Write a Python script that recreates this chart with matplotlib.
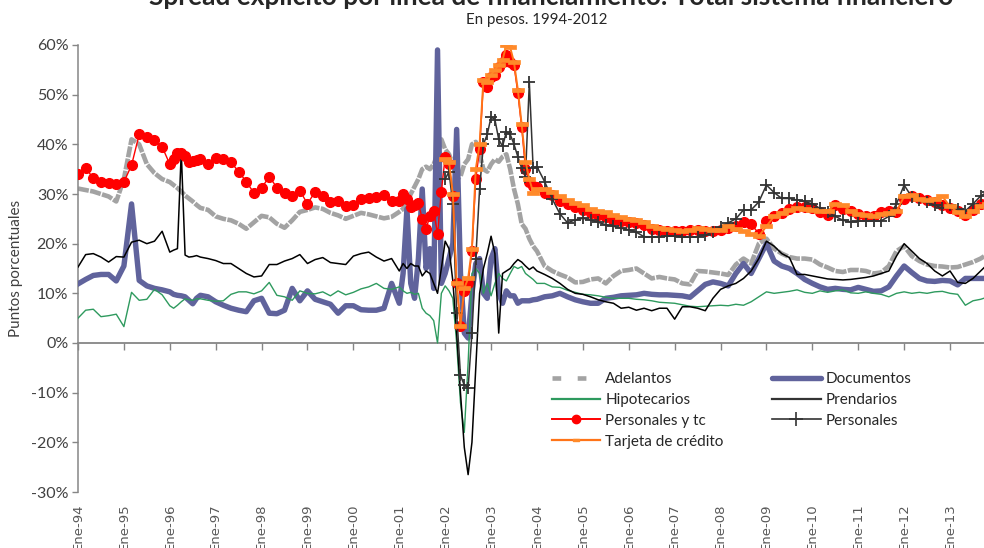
import numpy as np
import matplotlib
matplotlib.use("Agg")
import matplotlib.pyplot as plt
from matplotlib.lines import Line2D
from matplotlib.path import Path

plt.rcParams['font.family'] = ['Lato', 'DejaVu Sans']

# ---- time grid (month index, 0 = Ene-94) ----
months = (list(range(0, 25, 2)) + list(range(25, 32)) + list(range(32, 85, 2))
          + list(range(85, 121)) + list(range(122, 239, 2)))
start_new = 96  # series that begin in Ene-02

year_ticks = list(range(1994, 2014))
year_labels = ['Ene-94', 'Ene-95', 'Ene-96', 'Ene-97', 'Ene-98', 'Ene-99', 'Ene-00',
               'Ene-01', 'Ene-02', 'Ene-03', 'Ene-04', 'Ene-05', 'Ene-06', 'Ene-07',
               'Ene-08', 'Ene-09', 'Ene-10', 'Ene-11', 'Ene-12', 'Ene-13']

# ---- series (percent) ----
adelantos = [
    31.1, 30.8, 30.5, 30.0, 29.5, 28.5, 33.0, 41.0, 40.0, 36.0, 34.2, 33.0, 32.4,
    31.8, 31.2, 30.5, 29.7, 29.1, 28.5, 27.8,
    27.2, 26.8, 25.5, 25.0, 24.7, 24.0, 23.0, 24.3, 25.6, 25.3, 24.0, 23.2, 24.7, 26.4,
    26.8, 27.3, 27.0, 26.2, 25.7, 25.0, 25.6, 26.2, 25.9, 25.5, 25.1, 25.4, 26.4,
    27.0, 28.5, 30.0, 31.5, 33.0, 35.0, 35.5, 35.0, 36.0, 38.0, 41.0, 39.0, 38.0, 36.0,
    33.0, 33.5, 36.0, 37.0, 40.0, 40.5, 38.0, 35.0, 34.5, 36.0, 37.0, 36.5, 37.5, 38.0,
    35.0, 31.0, 28.0, 24.0, 23.0, 21.0, 19.5, 18.5,
    15.5, 14.5, 13.8, 13.2, 12.2, 12.3, 12.8, 13.0, 12.0, 13.5, 14.5, 14.7, 15.0, 14.0,
    13.0, 13.3, 13.0, 12.8, 12.0, 11.8, 14.5, 14.4, 14.2, 14.0, 13.7, 15.8, 17.0, 16.0,
    20.0, 21.0, 19.0, 18.0, 17.3, 17.0, 17.0, 16.8, 15.8, 15.2, 14.5, 14.3, 14.7, 14.7,
    14.5, 14.0, 14.2, 15.5, 18.5, 19.5, 17.5, 16.5, 15.8, 15.5, 15.4, 15.2, 15.3, 15.8,
    16.3, 17.0, 18.0]

documentos = [
    11.9, 12.8, 13.6, 13.8, 13.8, 12.5, 15.5, 28.0, 12.6, 11.5, 11.0, 10.7, 10.3,
    9.8, 9.6, 9.5, 9.3, 8.6, 7.9, 9.0,
    9.6, 9.3, 8.3, 7.6, 7.0, 6.6, 6.3, 8.5, 9.0, 6.0, 5.9, 6.6, 11.0, 8.5, 10.5, 8.8,
    8.3, 7.8, 6.0, 7.5, 7.5, 6.7, 6.6, 6.6, 7.0, 12.0, 8.0,
    14, 27, 12, 9, 17, 31, 15, 19, 11, 59, 12, 14, 17, 20, 43, 14, 2, 1, 10, 16, 17,
    10, 9, 17, 19, 10, 8, 10.5, 9.5, 9.5, 8, 8.5, 8.5, 8.5, 8.7, 8.8,
    9.3, 9.5, 10, 9.3, 8.7, 8.3, 8, 8, 9, 9.2, 9.5, 9.6, 9.7, 10, 9.8, 9.7, 9.7, 9.6,
    9.5, 9.2, 10.5, 11.8, 12.3, 12, 11.5, 14, 16, 14, 17, 20, 16.5, 15.5, 15, 14, 12.8,
    12, 11.3, 10.8, 11, 10.8, 10.7, 11.2, 10.8, 10.4, 10.5, 11.3, 13.5, 15.5, 14.2, 13,
    12.5, 12.4, 12.6, 12.5, 11.7, 13, 13, 13, 13]

hipotecarios = [
    5.0, 6.6, 6.8, 5.3, 5.5, 5.8, 3.3, 10.2, 8.6, 8.8, 10.8, 9.7, 7.5,
    7.0, 7.6, 8.3, 8.9, 8.7, 8.6, 8.9,
    8.9, 8.6, 8.4, 8.5, 9.8, 10.3, 10.3, 9.9, 10.5, 12.2, 9.6, 9.3, 8.6, 10.5, 10.0,
    9.9, 10.3, 9.5, 10.5, 9.7, 10.2, 10.9, 11.3, 12.0, 11.0, 10.8, 11.3,
    10.5, 10, 10.2, 9.8, 10, 7, 6, 5.5, 4.5, 0, 10, 11.5, 10.5, 9, 0, -12, -18, -4, 14,
    15, 14, 10, 12, 9.5, 12, 14, 13, 12.5, 14, 15.4, 15, 15.4, 14, 13.4, 12.8, 12,
    12, 11.3, 11.2, 10.6, 10.2, 9.8, 9.7, 9.5, 9.2, 9, 9, 9, 8.8, 8.7, 8.5, 8.2, 8.1,
    8, 7.7, 7.4, 7.3, 7.4, 7.5, 7.6, 7.5, 7.8, 7.6, 8.3, 9.3, 10.3, 10, 10.2, 10.4,
    10.7, 10.2, 10, 10.5, 10.2, 10.5, 10.7, 10.1, 10, 10.3, 10, 9.8, 9.3, 10, 10.3, 10,
    10.2, 10, 10.3, 10.4, 10, 9.8, 7.6, 8.5, 8.8, 9.3]

prendarios = [
    15.3, 17.8, 18.0, 17.3, 16.3, 17.4, 17.3, 20.3, 20.7, 20.0, 20.5, 22.5, 18.3,
    18.7, 19.0, 38.5, 17.7, 17.3, 17.4, 17.6,
    17.3, 17.0, 16.6, 16.0, 16.0, 15.0, 14.0, 13.3, 13.5, 15.8, 15.8, 16.5, 17.0, 17.8,
    16.0, 16.8, 17.2, 16.2, 16.0, 15.8, 17.5, 18.0, 18.3, 17.3, 16.5, 17.0, 14.5,
    16, 15, 16, 15.5, 15.5, 13.5, 14.5, 14, 12, 10, 15, 20.5, 19, 12.5, 2, -10, -21,
    -26.5, -20, -5, 10, 15, 18, 21.5, 18, 2, 14, 14.5, 15, 16, 16.8, 16.3, 15.5, 14.8,
    15.3, 14.5,
    13.8, 13, 12, 10.8, 10, 9.8, 9.3, 8.7, 8.3, 8, 7, 7.2, 6.6, 7, 6.5, 7, 7, 4.8, 7.3,
    7.3, 7, 6.5, 9, 10.8, 11.5, 12, 13, 14.5, 17, 20.5, 19.5, 18, 17.2, 13.8, 13.8,
    13.5, 13.2, 12.9, 12.8, 12.7, 12.8, 13, 13.2, 13.5, 14, 14.5, 17.5, 20, 18.5, 17,
    16, 14.5, 13.5, 14.5, 12.2, 12, 13, 14.5, 16]

personales_tc = [
    34.0, 35.2, 33.2, 32.4, 32.2, 32.0, 32.4, 35.8, 42.0, 41.4, 40.8, 39.5, 36.0,
    37.0, 38.2, 38.3, 37.7, 36.4, 36.6, 36.9,
    37.0, 36.1, 37.2, 37.0, 36.4, 34.5, 32.5, 30.2, 31.2, 33.5, 31.3, 30.2, 29.5, 30.7,
    28.0, 30.5, 29.5, 28.4, 28.5, 27.5, 27.8, 29.0, 29.1, 29.4, 29.8, 28.5, 28.5,
    30, 29, 27.3, 27.8, 28.2, 25, 23, 25.5, 26.5, 22, 30.5, 37.5, 36, 29.5, 12, 3.5,
    10.5, 12, 18.5, 33, 39, 52.5, 51.5, 53.5, 54, 55.5, 56.5, 58, 56.5, 56, 50.3, 43.5,
    35, 32.5, 31.7, 31.4,
    30.3, 29.8, 28.6, 28, 27.3, 26.8, 26.1, 25.8, 25.4, 24.8, 24.6, 24.4, 24.1, 23.8,
    23, 22.8, 22.6, 22.5, 22.5, 22.7, 22.8, 22.6, 22.5, 22.7, 23.2, 23.5, 24.3, 24,
    22, 24.5, 25.5, 26.2, 27, 27.4, 27.4, 27.2, 26.4, 25.8, 27.8, 27, 26.5, 26, 25.5,
    25.5, 26.4, 26.6, 26.4, 29, 29.6, 29.1, 28.8, 28.3, 27.8, 27.2, 26.6, 25.8, 26.8,
    28, 28.3]

# from Ene-02 onwards
tarjeta = [
    37, 36.5, 30, 12, 3.5, 11, 13, 19, 35, 40, 53, 52.5, 54, 55, 56, 57, 60, 59.5, 56.5,
    51, 44, 36.5, 33, 30.3, 31,
    31, 30.5, 29.5, 28.8, 28.2, 27.8, 27, 26.5, 26.3, 25.8, 25.4, 25, 24.8, 24.3, 23.6,
    23.2, 23, 22.8, 22.6, 22.8, 23.2, 23, 22.8, 22.8, 23.5, 23, 22.5, 22, 21.5, 23.5,
    25.5, 26.2, 26.8, 27.2, 27, 26.8, 26.5, 26.5, 28, 27.8, 26.5, 26, 25.8, 25.5, 26,
    26.2, 26.5, 29.5, 29.8, 29, 28.8, 29, 29.5, 27.5, 26.3, 25.5, 26.5, 27.5, 28]

personales = [
    33, 34.5, 28, 6, -6.5, -8.5, -9, 2, 17, 31, 40, 42, 45.5, 45, 41, 39.6, 42.5, 42,
    40, 37.5, 35.2, 33.5, 52.5, 35.2, 35.5,
    32.5, 29, 26, 24.2, 24.8, 25.1, 24.8, 24.3, 23.8, 23.5, 23.1, 22.8, 22.3, 21.4,
    21.4, 21.4, 21.5, 21.5, 21.3, 21.3, 21.4, 21.7, 22.4, 23.4, 24.2, 25, 26.8, 26.8,
    28.4, 31.8, 30.3, 29.1, 29.1, 28.8, 28.5, 28, 27.1, 26.4, 25.5, 24.7, 24.4, 24.5,
    24.6, 24.6, 24.6, 25.5, 28, 31.8, 29.4, 28.8, 28.3, 27.8, 27.1, 27.8, 27, 26.6, 28,
    29.6, 30.5]

n = len(months)
for s in (adelantos, documentos, hipotecarios, prendarios, personales_tc):
    assert len(s) == n, len(s)
i0 = months.index(start_new)
assert len(tarjeta) == n - i0 and len(personales) == n - i0

t = 1994 + np.array(months) / 12.0
t_new = t[i0:]

# ---- figure ----
W, H = 984, 548
fig = plt.figure(figsize=(W / 100, H / 100), dpi=100)
ax = fig.add_axes([78 / W, 1 - 492 / H, (W - 78) / W, (492 - 45) / H])
ax.set_xlim(1994, 2013.74)
ax.set_ylim(-30, 60)

axis_col = '#868686'
txt_col = '#404040'

ax.plot(t, adelantos, color='#a3a3a3', lw=3.3, dashes=(2.4, 0.3),
        dash_capstyle='butt', zorder=2)
ax.plot(t, documentos, color='#60639c', lw=3.9, solid_joinstyle='round', zorder=3)
ax.plot(t, hipotecarios, color='#2e9a5e', lw=1.0, zorder=4)
ax.plot(t, prendarios, color='#000000', lw=1.1, zorder=5)
ax.plot(t, personales_tc, color='#ff0000', lw=1.0, marker='o', ms=7,
        mfc='#ff0000', mec='#ff0000', zorder=6)
ax.plot(t_new, personales, color='#333333', lw=1.1, marker='+', ms=9, mew=1.3,
        zorder=7)
rect = Path([(-1, -0.42), (1, -0.42), (1, 0.42), (-1, 0.42), (-1, -0.42)],
            [Path.MOVETO, Path.LINETO, Path.LINETO, Path.LINETO, Path.CLOSEPOLY])
ax.plot(t_new, tarjeta, color='#ff7418', lw=1.4, marker=rect, ms=8,
        mfc='#ff8a2a', mec='#ff8a2a', mew=0.5, zorder=8)

# axes styling
for side in ('top', 'right'):
    ax.spines[side].set_visible(False)
ax.spines['left'].set_color(axis_col)
ax.spines['left'].set_linewidth(1.1)
ax.spines['bottom'].set_position(('data', 0))
ax.spines['bottom'].set_color(axis_col)
ax.spines['bottom'].set_linewidth(1.3)
ax.set_yticks(range(-30, 61, 10))
ax.set_yticklabels([f'{v}%' for v in range(-30, 61, 10)])
ax.tick_params(axis='y', direction='out', length=4, width=1, color=axis_col,
               labelsize=11.5, labelcolor=txt_col, pad=3)
ax.set_xticks(year_ticks)
ax.tick_params(axis='x', direction='out', length=5, width=1, color=axis_col,
               labelbottom=False)

sec = ax.secondary_xaxis(0.0)
sec.set_xticks(year_ticks)
sec.set_xticklabels(year_labels)
sec.tick_params(length=0, pad=8, labelsize=9.5, labelcolor='#595959')
for lab in sec.get_xticklabels():
    lab.set_rotation(90)
    lab.set_fontfamily('DejaVu Sans')
sec.spines['bottom'].set_visible(False)

ax.set_ylabel('Puntos porcentuales', fontsize=11, color=txt_col)
ax.yaxis.set_label_coords((23 - 78) / (W - 78), (492 - 268) / (492 - 45))

# titles
fig.text(551 / W, 1 - 5 / H,
         'Spread explícito por línea de financiamiento. Total sistema financiero',
         ha='center', va='baseline', fontsize=18.9, fontweight='bold', color='#262626')
fig.text(537 / W, 1 - 24 / H, 'En pesos. 1994-2012', ha='center', va='baseline',
         fontsize=10.8, color='#262626')

# legend
handles = [
    Line2D([], [], color='#a3a3a3', lw=3.3, dashes=(1.9, 3.6), dash_capstyle='butt'),
    Line2D([], [], color='#2e9a5e', lw=1.6),
    Line2D([], [], color='#ff0000', lw=1.4, marker='o', ms=6, mfc='#ff0000', mec='#ff0000'),
    Line2D([], [], color='#ff7418', lw=1.6, marker=rect, ms=4, mfc='#ff8a2a', mec='#ff8a2a'),
    Line2D([], [], color='#60639c', lw=3.9, solid_capstyle='round'),
    Line2D([], [], color='#333333', lw=1.6),
    Line2D([], [], color='#333333', lw=1.2, marker='+', ms=10, mew=1.2),
]
labels = ['Adelantos', 'Hipotecarios', 'Personales y tc', 'Tarjeta de crédito',
          'Documentos', 'Prendarios', 'Personales']
fig.legend(handles, labels, ncol=2, loc='upper left',
           bbox_to_anchor=(552 / W, 1 - 372 / H), frameon=False, fontsize=11,
           handlelength=3.15, handletextpad=0.33, columnspacing=3.2,
           labelspacing=0.45, borderpad=0, borderaxespad=0, numpoints=1,
           labelcolor='#262626')

fig.savefig('out.png', dpi=100)
